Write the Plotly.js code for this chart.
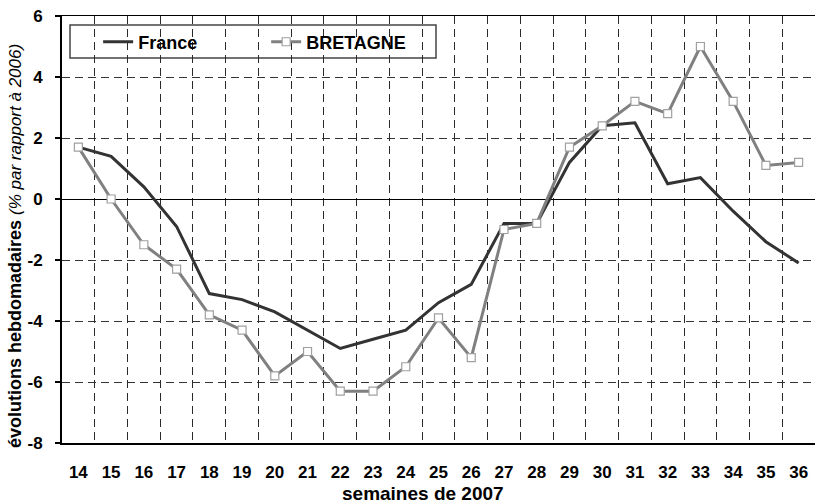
<!DOCTYPE html>
<html>
<head>
<meta charset="utf-8">
<script src="https://cdn.plot.ly/plotly-3.0.1.min.js"></script>
<style>html,body{margin:0;padding:0;background:#fff;}</style>
</head>
<body>
<div id="chart" style="width:815px;height:504px;"></div>
<script>
var weeks = ["14","15","16","17","18","19","20","21","22","23","24","25","26","27","28","29","30","31","32","33","34","35","36"];
var france = [1.7,1.4,0.4,-0.9,-3.1,-3.3,-3.7,-4.3,-4.9,-4.6,-4.3,-3.4,-2.8,-0.8,-0.8,1.2,2.4,2.5,0.5,0.7,-0.4,-1.4,-2.1];
var bretagne = [1.7,0.0,-1.5,-2.3,-3.8,-4.3,-5.8,-5.0,-6.3,-6.3,-5.5,-3.9,-5.2,-1.0,-0.8,1.7,2.4,3.2,2.8,5.0,3.2,1.1,1.2];
var yTicks = [-8,-6,-4,-2,0,2,4,6];

var FONT = "Liberation Sans, Arial, sans-serif";

var traces = [
  {x: weeks, y: france, name: "France", type: "scatter", mode: "lines",
   line: {color: "#333333", width: 3}},
  {x: weeks, y: bretagne, name: "BRETAGNE", type: "scatter", mode: "lines+markers",
   line: {color: "#808080", width: 3},
   marker: {symbol: "square", size: 8, color: "#ffffff", line: {color: "#a0a0a0", width: 1.2}}}
];

var layout = {
  width: 815, height: 504,
  margin: {l: 62, r: 0, t: 16, b: 61},
  paper_bgcolor: "#ffffff", plot_bgcolor: "#ffffff",
  font: {family: FONT, color: "#000000"},
  showlegend: true,
  legend: {orientation: "h", x: 0.048, xanchor: "left", y: 0.939, yanchor: "middle",
           bgcolor: "rgba(0,0,0,0)", borderwidth: 0, entrywidth: 123, entrywidthmode: "pixels",
           font: {family: FONT, size: 18, weight: "bold", color: "#000"}},
  xaxis: {type: "category", tickson: "boundaries", range: [-0.5, 22.5],
          showgrid: true, gridcolor: "#2a2a2a", gridwidth: 1, griddash: "8px,5px",
          showline: true, linecolor: "#000000", linewidth: 1.5, mirror: true,
          ticks: "", ticklabelstandoff: 13,
          tickfont: {family: FONT, size: 17, weight: "bold", color: "#000"},
          zeroline: false, fixedrange: true},
  yaxis: {range: [-8, 6], tickvals: yTicks, ticktext: yTicks.map(String),
          showgrid: true, gridcolor: "#333333", gridwidth: 1, griddash: "8px,5px",
          showline: true, linecolor: "#000000", linewidth: 2,
          ticks: "outside", ticklen: 5, tickwidth: 1.5, tickcolor: "#000",
          ticklabelstandoff: 9,
          tickfont: {family: FONT, size: 17, weight: "bold", color: "#000"},
          zeroline: true, zerolinecolor: "#000000", zerolinewidth: 1, fixedrange: true},
  shapes: [
    {type: "rect", xref: "paper", yref: "paper",
     x0: (70-62)/753, x1: (436-62)/753, y0: (443-58)/427, y1: (443-25)/427,
     line: {color: "#444444", width: 1.5}, fillcolor: "#ffffff", layer: "below"}
  ],
  annotations: [
    {text: "<b>semaines de 2007</b>", xref: "paper", yref: "paper",
     x: (423-62)/753, y: -(494-443)/427, xanchor: "center", yanchor: "middle",
     showarrow: false, font: {family: FONT, size: 19, color: "#000"}},
    {text: "<b>évolutions hebdomadaires</b> <i><span style=\"font-weight:normal;font-size:17px\">(% par rapport à 2006)</span></i>",
     xref: "paper", yref: "paper", textangle: -90,
     x: (15-62)/753, y: (443-246)/427, xanchor: "center", yanchor: "middle",
     showarrow: false, font: {family: FONT, size: 18, color: "#000"}}
  ]
};

Plotly.newPlot("chart", traces, layout, {displayModeBar: false, staticPlot: true});
</script>
</body>
</html>
